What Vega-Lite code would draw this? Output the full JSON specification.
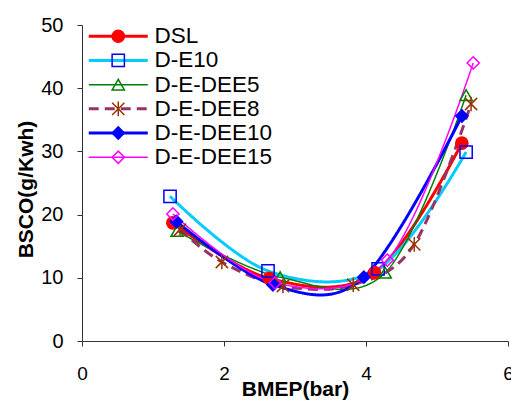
{
  "$schema": "https://vega.github.io/schema/vega-lite/v6.json",
  "width": 426,
  "height": 316,
  "autosize": {"type": "none"},
  "padding": {"left": 82, "top": 25, "right": 3, "bottom": 63},
  "background": "white",
  "config": {
    "view": {"stroke": null},
    "font": "Liberation Sans",
    "axis": {"grid": false, "domainColor": "#333333", "tickColor": "#333333", "domainWidth": 1, "tickWidth": 1, "labelColor": "black", "titleColor": "black", "labelFont": "Liberation Sans", "titleFont": "Liberation Sans"}
  },
  "data": {
    "values": [
      {"s": "DSL", "x": 1.28, "y": 18.7},
      {"s": "DSL", "x": 2.64, "y": 9.9},
      {"s": "DSL", "x": 4.12, "y": 10.8},
      {"s": "DSL", "x": 5.35, "y": 31.3},
      {"s": "D-E10", "x": 1.24, "y": 22.9},
      {"s": "D-E10", "x": 2.62, "y": 11.1},
      {"s": "D-E10", "x": 4.17, "y": 11.4},
      {"s": "D-E10", "x": 5.41, "y": 29.9},
      {"s": "D-E-DEE5", "x": 1.34, "y": 17.4},
      {"s": "D-E-DEE5", "x": 2.79, "y": 10.1},
      {"s": "D-E-DEE5", "x": 4.27, "y": 10.8},
      {"s": "D-E-DEE5", "x": 5.41, "y": 38.9},
      {"s": "D-E-DEE8", "x": 1.38, "y": 17.6},
      {"s": "D-E-DEE8", "x": 1.97, "y": 12.5},
      {"s": "D-E-DEE8", "x": 2.83, "y": 8.7},
      {"s": "D-E-DEE8", "x": 3.82, "y": 8.9},
      {"s": "D-E-DEE8", "x": 4.68, "y": 15.3},
      {"s": "D-E-DEE8", "x": 5.48, "y": 37.5},
      {"s": "D-E-DEE10", "x": 1.33, "y": 18.9},
      {"s": "D-E-DEE10", "x": 2.69, "y": 8.9},
      {"s": "D-E-DEE10", "x": 3.97, "y": 10.1},
      {"s": "D-E-DEE10", "x": 5.35, "y": 35.6},
      {"s": "D-E-DEE15", "x": 1.28, "y": 20.1},
      {"s": "D-E-DEE15", "x": 2.72, "y": 9.2},
      {"s": "D-E-DEE15", "x": 4.30, "y": 12.8},
      {"s": "D-E-DEE15", "x": 5.51, "y": 44.0}
    ]
  },
  "encoding": {
    "x": {"field": "x", "type": "quantitative", "scale": {"domain": [0, 6], "nice": false},
      "axis": {"values": [0, 2, 4, 6], "title": "BMEP(bar)", "titleFontSize": 21, "titleFontWeight": "bold", "titleBaseline": "top", "titleY": 37, "labelFontSize": 19, "labelPadding": 18, "tickSize": 5, "labelFlush": false}},
    "y": {"field": "y", "type": "quantitative", "scale": {"domain": [0, 50], "nice": false},
      "axis": {"values": [0, 10, 20, 30, 40, 50], "title": "BSCO(g/Kwh)", "titleFontSize": 21, "titleFontWeight": "bold", "titleBaseline": "middle", "titleX": -56, "titleY": 164, "labelFontSize": 20, "labelPadding": 14, "tickSize": 5, "labelFlush": false}}
  },
  "layer": [
    {
      "mark": {"type": "line", "interpolate": "cardinal"},
      "encoding": {
        "color": {"field": "s", "type": "nominal",
          "scale": {"domain": ["DSL", "D-E10", "D-E-DEE5", "D-E-DEE8", "D-E-DEE10", "D-E-DEE15"], "range": ["#FF0000", "#00CCFF", "#008000", "#993366", "#0000FF", "#FF00FF"]},
          "legend": {"orient": "none", "legendX": 25, "legendY": 0, "title": null, "symbolType": "M-4.82,0H4.82", "symbolSize": 150, "labelFontSize": 22.5, "labelFont": "Liberation Sans", "labelColor": "black", "labelOffset": 25, "rowPadding": 1.2, "padding": 0}},
        "strokeDash": {"field": "s", "type": "nominal",
          "scale": {"domain": ["DSL", "D-E10", "D-E-DEE5", "D-E-DEE8", "D-E-DEE10", "D-E-DEE15"], "range": [[1, 0], [1, 0], [1, 0], [10, 6], [1, 0], [1, 0]]}},
        "strokeWidth": {"field": "s", "type": "ordinal",
          "scale": {"type": "ordinal", "domain": ["DSL", "D-E10", "D-E-DEE5", "D-E-DEE8", "D-E-DEE10", "D-E-DEE15"], "range": [3, 3, 1.5, 3, 3, 1.5]}}
      }
    },
    {
      "mark": {"type": "point", "size": 150, "strokeWidth": 1.5, "opacity": 1},
      "encoding": {
        "shape": {"field": "s", "type": "nominal", "sort": null,
          "scale": {"range": ["circle", "square", "triangle-up", "M-1,-1L1,1M-1,1L1,-1M0,-1.2L0,1.2", "diamond", "diamond"]},
          "legend": {"orient": "none", "legendX": 25, "legendY": 0, "title": null, "symbolSize": 150, "symbolStrokeWidth": 1.5, "labelFontSize": 22.5, "labelFont": "Liberation Sans", "labelOpacity": 0, "labelOffset": 25, "rowPadding": 1.2, "padding": 0}},
        "fill": {"field": "s", "type": "nominal", "sort": null,
          "scale": {"range": ["#FF0000", "transparent", "transparent", "transparent", "#0000FF", "transparent"]}},
        "stroke": {"field": "s", "type": "nominal", "sort": null,
          "scale": {"range": ["#FF0000", "#0000FF", "#008000", "#993300", "#0000FF", "#FF00FF"]}}
      }
    }
  ]
}
